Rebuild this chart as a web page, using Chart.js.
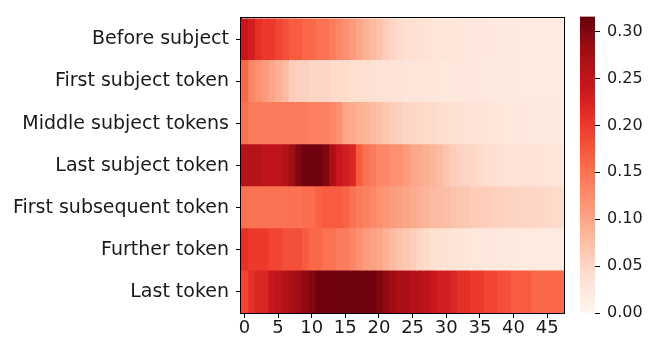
<!DOCTYPE html>
<html>
<head>
<meta charset="utf-8">
<script src="https://cdn.jsdelivr.net/npm/chart.js"></script>
<style>
  body { margin: 0; background: #fff; }
  #wrap { position: relative; width: 654px; height: 351px; }
  #main { position: absolute; left: 0; top: 0; width: 654px; height: 351px; }
  #bar { position: absolute; left: 570px; top: 0; width: 84px; height: 351px; }
</style>
</head>
<body>
<div id="wrap">
  <div id="main"><canvas id="heat"></canvas></div>
  <div id="bar"><canvas id="cbar"></canvas></div>
</div>
<script>
// Rows (top to bottom)
const rowLabels = ['Before subject', 'First subject token', 'Middle subject tokens', 'Last subject token',
  'First subsequent token', 'Further token', 'Last token'];
const xTicks = [0, 5, 10, 15, 20, 25, 30, 35, 40, 45];
const cbTicks = [0, 0.05, 0.10, 0.15, 0.20, 0.25, 0.30];
const VMAX = 0.316;
const NCOLS = 48;

// Values per row, columns 0..47
const beforeSubject = [0.24,0.23,0.21,0.20,0.20,0.19,0.18,0.17,0.17,0.16,0.16,0.15,0.15,0.14,0.13,0.12,0.11,0.10,0.09,0.08,0.07,0.06,0.05,0.045,0.04,0.04,0.035,0.035,0.03,0.03,0.03,0.028,0.027,0.026,0.025,0.025,0.024,0.023,0.023,0.022,0.022,0.021,0.021,0.02,0.02,0.02,0.02,0.02];
const firstSubject = [0.16,0.13,0.12,0.11,0.10,0.09,0.08,0.06,0.055,0.055,0.05,0.05,0.05,0.045,0.045,0.045,0.04,0.04,0.04,0.038,0.035,0.035,0.033,0.032,0.03,0.03,0.03,0.028,0.028,0.027,0.026,0.025,0.025,0.025,0.024,0.024,0.023,0.023,0.022,0.022,0.022,0.021,0.021,0.02,0.02,0.02,0.02,0.02];
const middleSubject = [0.15,0.14,0.14,0.14,0.14,0.14,0.14,0.14,0.14,0.14,0.135,0.135,0.135,0.13,0.12,0.10,0.095,0.09,0.085,0.08,0.075,0.065,0.06,0.055,0.05,0.05,0.048,0.046,0.045,0.042,0.04,0.038,0.036,0.035,0.033,0.032,0.03,0.03,0.028,0.027,0.026,0.025,0.025,0.024,0.023,0.022,0.022,0.021];
const lastSubject = [0.26,0.26,0.26,0.25,0.25,0.25,0.26,0.28,0.30,0.31,0.31,0.31,0.30,0.27,0.24,0.23,0.22,0.17,0.15,0.14,0.13,0.13,0.12,0.12,0.11,0.10,0.095,0.09,0.085,0.078,0.068,0.06,0.054,0.05,0.047,0.045,0.042,0.04,0.038,0.036,0.035,0.034,0.033,0.032,0.031,0.03,0.03,0.03];
const firstSubsequent = [0.15,0.15,0.15,0.15,0.15,0.15,0.15,0.15,0.15,0.155,0.155,0.165,0.17,0.17,0.17,0.165,0.15,0.14,0.135,0.13,0.12,0.115,0.11,0.105,0.10,0.095,0.09,0.085,0.08,0.078,0.075,0.07,0.065,0.065,0.06,0.06,0.058,0.056,0.055,0.054,0.052,0.051,0.05,0.05,0.048,0.047,0.046,0.045];
const furtherToken = [0.21,0.20,0.20,0.20,0.19,0.19,0.18,0.18,0.18,0.17,0.16,0.16,0.15,0.15,0.14,0.14,0.13,0.12,0.11,0.105,0.10,0.09,0.08,0.07,0.065,0.06,0.05,0.045,0.04,0.038,0.035,0.032,0.03,0.028,0.027,0.026,0.025,0.024,0.023,0.022,0.022,0.021,0.021,0.02,0.02,0.02,0.02,0.02];
const lastToken = [0.19,0.21,0.22,0.22,0.24,0.25,0.26,0.27,0.28,0.29,0.30,0.31,0.31,0.31,0.31,0.31,0.31,0.31,0.31,0.31,0.30,0.29,0.28,0.27,0.27,0.26,0.26,0.25,0.24,0.23,0.23,0.22,0.21,0.21,0.20,0.20,0.19,0.19,0.18,0.18,0.17,0.17,0.17,0.16,0.16,0.16,0.16,0.16];

const rows = [beforeSubject, firstSubject, middleSubject, lastSubject, firstSubsequent, furtherToken, lastToken];

// matplotlib "Reds"
const reds = [[255,245,240],[254,224,210],[252,187,161],[252,146,114],[251,106,74],[239,59,44],[203,24,29],[165,15,21],[103,0,13]];
function redColor(t) {
  t = Math.max(0, Math.min(1, t));
  const p = t * (reds.length - 1);
  const i = Math.min(reds.length - 2, Math.floor(p));
  const f = p - i;
  const c = reds[i].map((v, k) => Math.round(v + (reds[i + 1][k] - v) * f));
  return 'rgb(' + c.join(',') + ')';
}

const FONT = "'DejaVu Sans', sans-serif";
const TXT = '#1a1a1a';

// one stacked dataset per column
const datasets = [];
for (let j = 0; j < NCOLS; j++) {
  datasets.push({
    data: rows.map(() => 1),
    backgroundColor: rows.map(r => redColor(r[j] / VMAX)),
    borderWidth: 0,
    inflateAmount: 0.5
  });
}

const frame = {
  id: 'frame',
  afterDatasetsDraw(chart) {
    const a = chart.chartArea, c = chart.ctx;
    c.save();
    c.strokeStyle = '#000';
    c.lineWidth = 1;
    c.strokeRect(Math.round(a.left) - 0.5, Math.round(a.top) - 0.5,
      Math.round(a.right - a.left) + 1, Math.round(a.bottom - a.top) + 1);
    c.restore();
  }
};

new Chart(document.getElementById('heat'), {
  type: 'bar',
  data: { labels: rowLabels, datasets },
  options: {
    indexAxis: 'y',
    responsive: true,
    maintainAspectRatio: false,
    animation: false,
    layout: { padding: { left: 0, right: 90, top: 13, bottom: 0 } },
    datasets: { bar: { barPercentage: 1, categoryPercentage: 1 } },
    plugins: { legend: { display: false }, tooltip: { enabled: false } },
    scales: {
      x: {
        type: 'linear', stacked: true, min: 0, max: NCOLS,
        afterBuildTicks: s => { s.ticks = xTicks.map(v => ({ value: v + 0.5 })); },
        afterFit: s => { s.height = 38; },
        ticks: { callback: v => String(Math.round(v - 0.5)), font: { family: FONT, size: 18 }, color: TXT, padding: 0, maxRotation: 0, autoSkip: false },
        grid: { drawOnChartArea: false, tickLength: 5, color: '#000' },
        border: { display: true, color: '#000' }
      },
      y: {
        stacked: true,
        afterFit: s => { s.width = 241; },
        ticks: { font: { family: FONT, size: 19 }, color: TXT, padding: 7 },
        grid: { drawOnChartArea: false, offset: false, tickLength: 5, color: '#000' },
        border: { display: true, color: '#000' }
      }
    }
  },
  plugins: [frame]
});

// colorbar
new Chart(document.getElementById('cbar'), {
  type: 'bar',
  data: {
    labels: [''],
    datasets: [{
      data: [[0, VMAX]],
      borderWidth: 0,
      backgroundColor: ctx => {
        const ch = ctx.chart;
        if (!ch.chartArea) return null;
        const y = ch.scales.y;
        const g = ch.ctx.createLinearGradient(0, y.getPixelForValue(0), 0, y.getPixelForValue(VMAX));
        for (let k = 0; k <= 20; k++) g.addColorStop(k / 20, redColor(k / 20));
        return g;
      }
    }]
  },
  options: {
    responsive: true,
    maintainAspectRatio: false,
    animation: false,
    layout: { padding: { left: 10, right: 0, top: 13, bottom: 38 } },
    datasets: { bar: { barPercentage: 1, categoryPercentage: 1 } },
    plugins: { legend: { display: false }, tooltip: { enabled: false } },
    scales: {
      x: { display: false },
      y: {
        position: 'right', min: 0, max: VMAX,
        afterBuildTicks: s => { s.ticks = cbTicks.map(v => ({ value: v })); },
        afterFit: s => { s.width = 59; },
        ticks: { callback: v => v.toFixed(2), font: { family: FONT, size: 16 }, color: TXT, padding: 7 },
        grid: { drawOnChartArea: false, tickLength: 5, color: '#000' },
        border: { display: false }
      }
    }
  }
});
</script>
</body>
</html>
